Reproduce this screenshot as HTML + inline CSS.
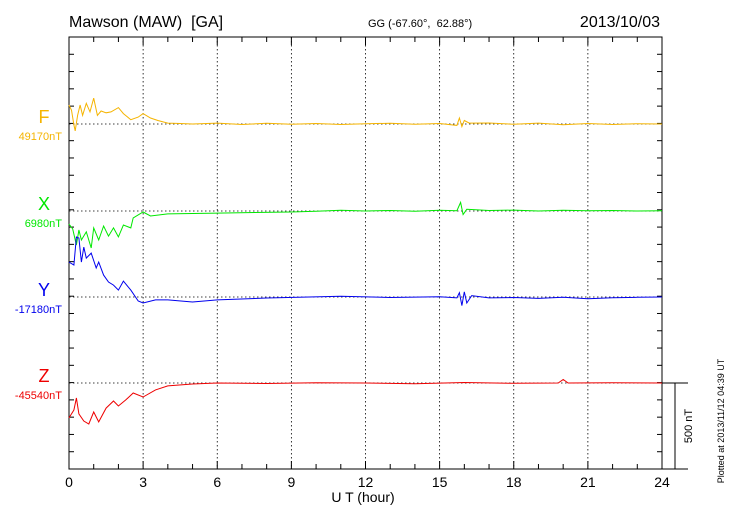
<!DOCTYPE html>
<html><head><meta charset="utf-8"><style>
body{margin:0;background:#fff;}
svg{display:block;font-family:"Liberation Sans",sans-serif;}
</style></head><body>
<svg id="c" width="730" height="520" viewBox="0 0 730 520">
<text x="69" y="27" font-size="16" xml:space="preserve">Mawson (MAW)  [GA]</text>
<text x="368" y="27" font-size="11" xml:space="preserve">GG (-67.60°,  62.88°)</text>
<text x="660" y="27" font-size="16" text-anchor="end">2013/10/03</text>
<text x="363" y="502" font-size="14" text-anchor="middle">U T (hour)</text>
<text transform="translate(724,421) rotate(-90)" font-size="9" text-anchor="middle">Plotted at 2013/11/12 04:39 UT</text>
<text transform="translate(692,426) rotate(-90)" font-size="11" text-anchor="middle">500 nT</text>
<g id="grid"></g><g id="axes"></g><g id="series"></g>
</svg>
<script>
const NS="http://www.w3.org/2000/svg";
const names=["F","X","Y","Z"];
const colors=["#f5b400","#00e800","#0000ee","#ee0000"];
const baseLabels=["49170nT","6980nT","-17180nT","-45540nT"];
const xTicks=[0,3,6,9,12,15,18,21,24];
const fT=[0,0.1,0.2,0.25,0.35,0.45,0.55,0.7,0.85,1.0,1.15,1.3,1.5,1.7,2.0,2.2,2.5,2.8,3.0,3.3,3.6,4,4.5,5,6,7,8,9,10,11,12,13,14,15,15.7,15.8,15.9,16,16.2,17,18,19,20,21,22,23,24];
const fV=[110,80,-5,-40,50,110,50,120,70,150,50,75,65,70,95,60,25,40,60,35,20,5,3,0,5,-3,4,-2,3,-3,2,4,-2,3,-8,35,-15,20,5,6,-2,5,-4,3,-3,2,0];
const xT=[0,0.15,0.3,0.4,0.5,0.7,0.9,1.0,1.2,1.4,1.6,1.8,2.0,2.2,2.5,2.6,3.0,3.3,4,6,9,10,11,12,13,14,15,15.7,15.85,15.95,16.1,17,18,19,20,21,22,23,24];
const xV=[-75,-104,-197,-110,-168,-121,-214,-98,-168,-87,-145,-98,-150,-81,-98,-40,-6,-29,-17,-12,-6,-2,4,0,3,-2,4,2,50,-20,10,3,5,0,4,2,3,0,2];
const yT=[0,0.2,0.3,0.4,0.5,0.6,0.7,0.9,1.1,1.2,1.4,1.6,1.8,2.0,2.2,2.5,2.8,3.0,3.5,4,5,6,8,11,13,15,15.7,15.8,15.9,16,16.1,16.3,17,18,19,20,21,22,23,24];
const yV=[202,185,347,341,202,289,225,254,168,202,127,87,69,40,92,40,-23,-35,-17,-17,-29,-17,-6,4,-3,2,-5,25,-50,30,-35,8,-5,-3,-8,-2,-10,-4,-2,0];
const zT=[0,0.2,0.3,0.4,0.6,0.8,1.0,1.2,1.5,1.8,2.0,2.3,2.6,3.0,3.5,4,5,6,8,10,12,14,16,18,19.8,20,20.2,22,24];
const zV=[-202,-156,-87,-179,-220,-237,-168,-225,-145,-104,-133,-98,-58,-81,-40,-17,-6,0,-3,2,0,-4,3,-2,0,20,0,2,0];
const times=[fT,xT,yT,zT], vals=[fV,xV,yV,zV];
const X0=69,X1=662,Y0=37,Y1=469;
const bases=[124,211,297,383];
const nTpx=86.4/500;
const sx=t=>X0+(X1-X0)*t/24;
const sy=(i,v)=>bases[i]-v*nTpx;
function mk(tag,at,parent){const e=document.createElementNS(NS,tag);for(const k in at)e.setAttribute(k,at[k]);parent.appendChild(e);return e;}
const grid=document.getElementById('grid'),axes=document.getElementById('axes'),ser=document.getElementById('series');
xTicks.forEach(t=>{if(t>0&&t<24){const l=mk('line',{x1:sx(t),x2:sx(t),y1:Y0,y2:Y1,stroke:'#000','stroke-width':0.8,'stroke-dasharray':'1.5,2.5'},grid);

}});
bases.forEach((b,i)=>{const l=mk('line',{x1:X0,x2:X1,y1:b,y2:b,stroke:'#000','stroke-width':0.8,'stroke-dasharray':'1.5,2.5'},grid);

});
const fr=mk('rect',{x:X0,y:Y0,width:X1-X0,height:Y1-Y0,fill:'none',stroke:'#000','stroke-width':1},axes);


for(let y=Y1;y>=Y0;y-=17.28){mk('line',{x1:X0,x2:X0+5,y1:y,y2:y,stroke:'#000'},axes);mk('line',{x1:X1,x2:X1-5,y1:y,y2:y,stroke:'#000'},axes);}
for(let h=0;h<=24;h++){const len=h%3==0?8:5;mk('line',{x1:sx(h),x2:sx(h),y1:Y1,y2:Y1-len,stroke:'#000'},axes);mk('line',{x1:sx(h),x2:sx(h),y1:Y0,y2:Y0+len,stroke:'#000'},axes);}
xTicks.forEach(t=>{const tx=mk('text',{x:sx(t),y:487,'font-size':14,'text-anchor':'middle'},axes);tx.textContent=t;

});
mk('line',{x1:675,x2:675,y1:383,y2:469,stroke:'#000'},axes);
mk('line',{x1:662,x2:688,y1:383,y2:383,stroke:'#000'},axes);
mk('line',{x1:662,x2:688,y1:469,y2:469,stroke:'#000'},axes);
names.forEach((n,i)=>{
 const p=mk('polyline',{points:times[i].map((t,k)=>sx(t).toFixed(1)+','+sy(i,vals[i][k]).toFixed(1)).join(' '),fill:'none',stroke:colors[i],'stroke-width':1},ser);
 
 
 const a=mk('text',{x:44,y:bases[i]-1,'font-size':18,fill:colors[i],'text-anchor':'middle'},ser);a.textContent=n;
 
 
 const b=mk('text',{x:62,y:bases[i]+16,'font-size':11,fill:colors[i],'text-anchor':'end'},ser);b.textContent=baseLabels[i];
 
 
});
</script>
</body></html>
